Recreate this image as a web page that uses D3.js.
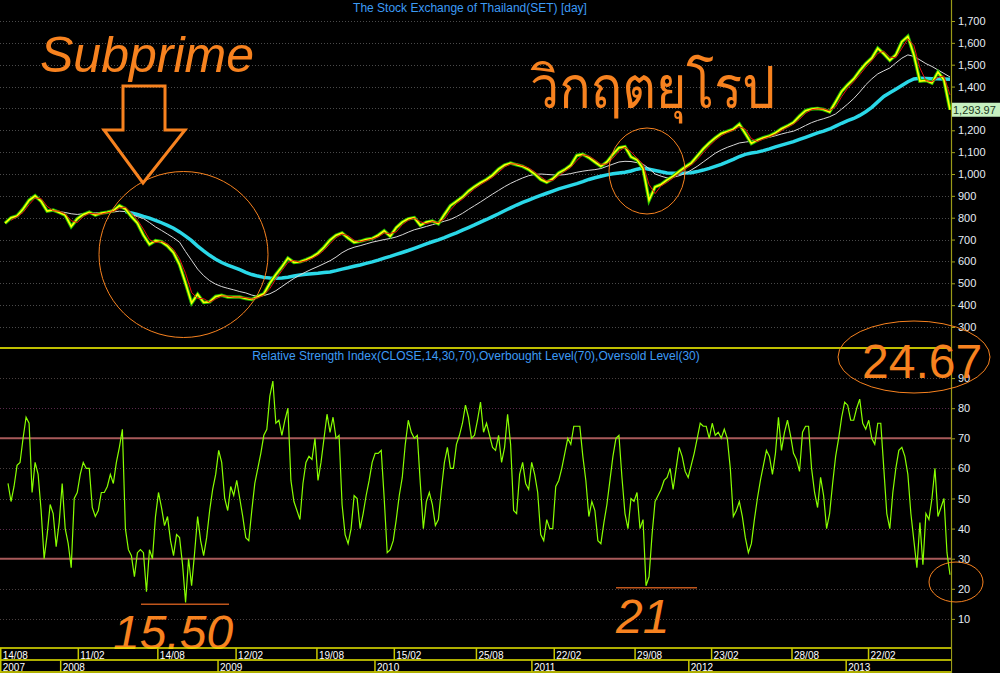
<!DOCTYPE html>
<html><head><meta charset="utf-8">
<script src="https://cdn.jsdelivr.net/npm/d3@7"></script>
<style>html,body{margin:0;padding:0;background:#000;overflow:hidden}</style>
</head><body><svg id="c" width="1000" height="673"></svg>
<script>
// ---------- DATA ----------
const axisStart = "2007-08-14", axisEnd = "2013-08-27";
const stepDays = 14;               // price / moving-average sampling step
const priceStart = "2007-08-21";
const priceValues = [
 775,800,808,840,880,900,875,830,835,824,
 812,760,795,815,825,812,821,825,832,855,
 840,805,775,720,678,695,690,670,640,585,
 500,410,450,412,415,440,445,437,437,437,
 430,426,440,452,500,540,575,615,595,598,
 608,620,638,665,698,720,730,707,687,692,
 700,705,720,740,715,755,780,795,800,765,
 780,785,772,815,855,875,895,922,942,960,
 975,995,1022,1041,1050,1042,1035,1020,1000,975,
 962,978,1005,1020,1040,1085,1090,1075,1055,1035,
 1055,1090,1120,1125,1078,1065,1025,880,941,952,
 973,990,1012,1032,1050,1082,1115,1142,1165,1185,
 1195,1205,1228,1185,1140,1155,1166,1174,1188,1207,
 1220,1236,1265,1290,1297,1300,1295,1284,1330,1378,
 1408,1435,1472,1505,1530,1575,1550,1520,1545,1605,
 1630,1545,1425,1428,1416,1467,1430,1293.97];
const ma10Start = "2007-09-04";
const ma10Values = [
 788,804,824,860,890,888,852,832,830,818,
 786,778,805,820,818,816,823,828,843,848,
 822,790,748,700,686,692,680,655,612,545,
 458,430,430,413,428,442,441,437,437,434,
 428,433,446,476,520,558,595,605,596,603,
 614,629,651,681,709,725,718,697,690,696,
 702,712,730,728,735,768,788,798,782,772,
 782,778,794,835,865,885,908,932,951,968,
 985,1008,1032,1046,1046,1038,1028,1010,988,968,
 970,992,1012,1030,1062,1088,1082,1065,1045,1045,
 1072,1105,1122,1102,1072,1045,952,910,946,962,
 982,1001,1022,1041,1066,1098,1128,1154,1175,1190,
 1200,1216,1206,1162,1148,1160,1170,1181,1198,1214,
 1228,1250,1278,1294,1298,1298,1290,1307,1354,1393,
 1422,1454,1488,1518,1552,1562,1535,1532,1575,1618,
 1588,1485,1427,1422,1442,1448,1362];
const ma50Start = "2007-12-11";
const ma50Values = [
 832,828,824,818,815,818,822,822,823,824,
 826,830,828,815,805,796,778,758,742,725,
 708,688,645,605,565,535,512,496,485,477,
 470,462,456,446,440,444,452,466,485,504,
 522,538,552,565,577,590,603,620,640,655,
 665,672,680,688,694,700,705,712,722,734,
 745,752,760,768,776,784,792,805,820,838,
 855,872,890,908,925,942,957,970,982,992,
 998,1000,998,996,995,997,1002,1008,1013,1017,
 1020,1025,1035,1045,1055,1058,1057,1052,1045,1025,
 1000,990,982,985,992,1002,1018,1035,1055,1075,
 1095,1110,1122,1132,1142,1146,1150,1157,1163,1168,
 1175,1183,1190,1196,1208,1222,1235,1245,1253,1262,
 1275,1297,1320,1345,1375,1408,1435,1458,1472,1485,
 1508,1530,1545,1538,1522,1505,1492,1476,1460,1444];
const ma200Start = "2008-05-27";
const ma200Values = [
 828,822,815,806,798,788,777,765,752,735,
 716,695,670,648,628,610,595,583,573,562,
 550,540,533,527,524,523,524,528,533,538,
 541,544,546,549,552,558,565,571,578,584,
 591,598,606,615,623,632,641,650,660,670,
 680,690,699,709,720,731,743,755,767,780,
 792,805,818,832,845,858,870,881,892,902,
 912,922,932,940,948,956,965,975,983,990,
 996,1001,1005,1008,1014,1022,1027,1022,1016,1010,
 1005,1003,1003,1004,1006,1011,1018,1026,1035,1044,
 1055,1067,1080,1090,1096,1100,1107,1115,1124,1132,
 1140,1148,1158,1168,1178,1188,1196,1206,1219,1232,
 1244,1254,1268,1285,1305,1330,1355,1372,1388,1405,
 1422,1435,1438,1437,1436,1436,1435,1434];
const rsiStart = "2007-08-28", rsiStepDays = 7;
const rsiValues = [
 55,49,54,61,62,70,77,75,52,62,
 58,46,30,38,48,45,34,42,55,40,
 35,27,50,52,58,62,60,60,47,44,
 46,52,52,54,58,55,62,67,73,40,
 33,31,24,32,33,32,19,33,30,44,
 52,47,41,44,36,31,38,37,28,15.5,
 30,21,32,44,36,31,37,46,53,58,
 66,62,50,46,54,51,56,50,44,37,
 36,46,55,60,65,71,73,84,89,75,
 76,71,76,80,56,49,46,43,55,62,
 64,63,70,56,62,70,78,72,77,70,
 71,48,38,35,40,51,50,40,45,51,
 56,62,65,65,66,50,32,33,36,43,
 51,57,68,76,72,70,71,55,40,49,
 52,48,41,43,53,62,67,60,60,68,
 71,75,81,77,70,71,76,82,72,75,
 71,67,66,71,62,67,78,68,46,45,
 58,62,55,53,62,58,52,38,36,43,
 40,40,54,56,60,65,70,68,74,74,
 74,64,56,44,49,46,36,35,42,48,
 56,64,70,71,57,45,40,50,49,52,
 40,43,21,24,38,49,51,53,56,57,
 60,53,60,67,64,59,57,61,65,70,
 75,74,74,70,75,71,72,70,73,70,
 60,44,46,49,44,37,32,35,43,50,
 56,61,66,64,58,65,77,66,72,76,
 71,65,63,59,72,74,74,60,52,47,
 57,51,40,45,55,64,70,77,82,81,
 76,76,80,83,75,73,76,70,68,75,
 75,60,45,40,52,60,66,67,64,58,
 45,36,27,42,28,45,43,50,60,44,
 47,50,32,24.67];
const lastClose = 1293.97;
const lastRsi = 24.67;
const rsiLow2008 = 15.50, rsiLow2011 = 21;
const priceTicks = [300,400,500,600,700,800,900,1000,1100,1200,1300,1400,1500,1600,1700];
const rsiTicks = [10,20,30,40,50,60,70,80,90];
const rsiLevels = [30,70];
const dayLabels = ["14/08","11/02","14/08","12/02","19/08","15/02","25/08","22/02","29/08","23/02","28/08","22/02"];
const dayDates = ["2007-08-14","2008-02-11","2008-08-14","2009-02-12","2009-08-19","2010-02-15","2010-08-25","2011-02-22","2011-08-29","2012-02-23","2012-08-28","2013-02-22"];
const yearLabels = ["2007","2008","2009","2010","2011","2012","2013"];
const yearDates = ["2007-08-14","2008-01-01","2009-01-01","2010-01-01","2011-01-01","2012-01-01","2013-01-01"];
const priceTitle = "The Stock Exchange of Thailand(SET) [day]";
const rsiTitle = "Relative Strength Index(CLOSE,14,30,70),Overbought Level(70),Oversold Level(30)";

// ---------- CHART ----------
const parse = d3.timeParse("%Y-%m-%d");
const svg = d3.select("#c");
const W = 1000, H = 673, axisX = 951;
const orange = "#f7821f";
const font = "'Liberation Sans', Arial, sans-serif";

svg.append("rect").attr("width", W).attr("height", H).attr("fill", "#000");

const x = d3.scaleTime().domain([parse(axisStart), parse(axisEnd)]).range([2, 950]);
const yP = d3.scaleLinear().domain([300, 1700]).range([327, 21]);
const yR = d3.scaleLinear().domain([0, 100]).range([649, 348]);

function series(start, step, vals) {
  const s = parse(start);
  return vals.map((v, i) => ({ d: d3.timeDay.offset(s, i * step), v }));
}
const price = series(priceStart, stepDays, priceValues);
const ma10 = series(ma10Start, stepDays, ma10Values);
const ma50 = series(ma50Start, stepDays, ma50Values);
const ma200 = series(ma200Start, stepDays, ma200Values);
const rsi = series(rsiStart, rsiStepDays, rsiValues);

// grid lines price
svg.append("g").selectAll("line").data(priceTicks).join("line")
  .attr("x1", 0).attr("x2", axisX).attr("y1", d => Math.round(yP(d)) + 0.5).attr("y2", d => Math.round(yP(d)) + 0.5)
  .attr("stroke", "#4a4a4a").attr("stroke-dasharray", "1,2");
// grid lines rsi
svg.append("g").selectAll("line").data(rsiTicks.filter(t => !rsiLevels.includes(t))).join("line")
  .attr("x1", 0).attr("x2", axisX).attr("y1", d => Math.round(yR(d)) + 0.5).attr("y2", d => Math.round(yR(d)) + 0.5)
  .attr("stroke", d => (d === 80 || d === 40) ? "#5a2a4a" : "#4a4040").attr("stroke-dasharray", "1,2");
svg.append("g").selectAll("line").data(rsiLevels).join("line")
  .attr("x1", 0).attr("x2", axisX).attr("y1", d => yR(d)).attr("y2", d => yR(d))
  .attr("stroke", "#a85a5a").attr("stroke-width", 2);

// titles
svg.append("text").attr("x", 470).attr("y", 12).attr("text-anchor", "middle")
  .attr("font-family", font).attr("font-size", 12).attr("fill", "#3d9bf5").text(priceTitle);
svg.append("text").attr("x", 476).attr("y", 360).attr("text-anchor", "middle")
  .attr("font-family", font).attr("font-size", 12).attr("fill", "#3d9bf5").text(rsiTitle);

// price panel
const lineP = d3.line().x(d => x(d.d)).y(d => yP(d.v));
const gP = svg.append("g");
gP.append("path").datum(ma200).attr("d", lineP).attr("fill", "none").attr("stroke", "#2ad8e8").attr("stroke-width", 3.5);
gP.append("path").datum(ma50).attr("d", lineP).attr("fill", "none").attr("stroke", "#d8d8d8").attr("stroke-width", 1);
gP.append("path").datum(price).attr("d", lineP).attr("fill", "none").attr("stroke", "#22c000").attr("stroke-width", 3.5);
gP.append("path").datum(price).attr("d", lineP).attr("fill", "none").attr("stroke", "#ffff00").attr("stroke-width", 1.6);
gP.append("path").datum(ma10).attr("d", lineP).attr("fill", "none").attr("stroke", "#e01010").attr("stroke-width", 1);

// panel separator
svg.append("line").attr("x1", 0).attr("x2", axisX).attr("y1", 348).attr("y2", 348).attr("stroke", "#ffff00").attr("stroke-width", 1.5);

// rsi line
const lineR = d3.line().x(d => x(d.d)).y(d => yR(d.v));
svg.append("path").datum(rsi).attr("d", lineR).attr("fill", "none").attr("stroke", "#88ff00").attr("stroke-width", 1.2);

// right axes
const axP = d3.axisRight(yP).tickValues(priceTicks).tickFormat(d3.format(",")).tickSize(4).tickPadding(3);
const axR = d3.axisRight(yR).tickValues(rsiTicks).tickFormat(d3.format("d")).tickSize(4).tickPadding(3);
[axP, axR].forEach(a => {
  const g = svg.append("g").attr("transform", `translate(${axisX},0)`).call(a);
  g.select(".domain").remove();
  g.selectAll("line").attr("stroke", "#a0a020");
  g.selectAll("text").attr("fill", "#e6edf5").attr("font-family", font).attr("font-size", 11);
});
svg.append("line").attr("x1", axisX + 0.5).attr("x2", axisX + 0.5).attr("y1", 0).attr("y2", H).attr("stroke", "#9a9a18").attr("stroke-width", 1.2);

// last close label
const lc = yP(lastClose);
svg.append("rect").attr("x", 952).attr("y", lc - 7).attr("width", 48).attr("height", 14).attr("fill", "#c6f0c0");
svg.append("text").attr("x", 953).attr("y", lc + 4).attr("font-family", font).attr("font-size", 11)
  .attr("fill", "#203820").text(d3.format(",.2f")(lastClose));

// ---------- annotations ----------
const gA = svg.append("g");
gA.append("text").attr("x", 40).attr("y", 72).attr("font-family", font).attr("font-style", "italic")
  .attr("font-size", 50).attr("fill", orange).text("Subprime");
gA.append("polygon").attr("points", "123,86 165,86 165,130 185,130 143,183 104,130 123,130")
  .attr("fill", "none").attr("stroke", orange).attr("stroke-width", 3).attr("stroke-linejoin", "miter");
gA.append("ellipse").attr("cx", 183.5).attr("cy", 254.5).attr("rx", 84.5).attr("ry", 83)
  .attr("fill", "none").attr("stroke", orange).attr("stroke-width", 1);
gA.append("text").attr("transform", "translate(530,108) scale(1,1.13)")
  .attr("font-family", "Loma,Garuda,'Noto Sans Thai','Noto Looped Thai','Tlwg Typo',sans-serif")
  .attr("font-size", 52).attr("fill", orange).text("วิกฤตยุโรป");
gA.append("ellipse").attr("cx", 647).attr("cy", 171).attr("rx", 38).attr("ry", 43)
  .attr("fill", "none").attr("stroke", orange).attr("stroke-width", 1);
gA.append("ellipse").attr("cx", 914).attr("cy", 357).attr("rx", 76).attr("ry", 36)
  .attr("fill", "none").attr("stroke", orange).attr("stroke-width", 1);
gA.append("text").attr("x", 862).attr("y", 378).attr("font-family", font)
  .attr("font-size", 48).attr("fill", orange).text(d3.format(".2f")(lastRsi));
gA.append("ellipse").attr("cx", 956).attr("cy", 582).attr("rx", 27).attr("ry", 20)
  .attr("fill", "none").attr("stroke", orange).attr("stroke-width", 1);
gA.append("line").attr("x1", 141).attr("x2", 229).attr("y1", yR(rsiLow2008) + 2).attr("y2", yR(rsiLow2008) + 2).attr("stroke", "#c0561c").attr("stroke-width", 1.5);
gA.append("line").attr("x1", 616).attr("x2", 697).attr("y1", yR(rsiLow2011) + 2).attr("y2", yR(rsiLow2011) + 2).attr("stroke", "#c0561c").attr("stroke-width", 1.5);
gA.append("text").attr("x", 113).attr("y", 649).attr("font-family", font).attr("font-style", "italic")
  .attr("font-size", 48).attr("fill", orange).text(d3.format(".2f")(rsiLow2008));
gA.append("text").attr("x", 616).attr("y", 633).attr("font-family", font).attr("font-style", "italic")
  .attr("font-size", 48).attr("fill", orange).text(String(rsiLow2011));

// bottom date axis (drawn over the "15.50" text bottom)
const gB = svg.append("g");
gB.append("rect").attr("x", 0).attr("y", 649).attr("width", axisX).attr("height", 24).attr("fill", "#000");
[648, 660, 672].forEach(yy => gB.append("line").attr("x1", 0).attr("x2", axisX).attr("y1", yy).attr("y2", yy).attr("stroke", "#e8e800").attr("stroke-width", 1.5));
dayDates.forEach((ds, i) => {
  const px = Math.max(0.75, x(parse(ds)) - 1.5);
  gB.append("line").attr("x1", px).attr("x2", px).attr("y1", 648).attr("y2", 660).attr("stroke", "#c8c800").attr("stroke-width", 1.5);
  gB.append("text").attr("x", px + 2).attr("y", 658.5).attr("font-family", font).attr("font-size", 10).attr("fill", "#fff").text(dayLabels[i]);
});
yearDates.forEach((ds, i) => {
  const px = Math.max(0.75, x(parse(ds)) - 1.5);
  gB.append("line").attr("x1", px).attr("x2", px).attr("y1", 660).attr("y2", 672).attr("stroke", "#c8c800").attr("stroke-width", 1.5);
  gB.append("text").attr("x", px + 2).attr("y", 670.5).attr("font-family", font).attr("font-size", 10).attr("fill", "#fff").text(yearLabels[i]);
});
</script></body></html>
